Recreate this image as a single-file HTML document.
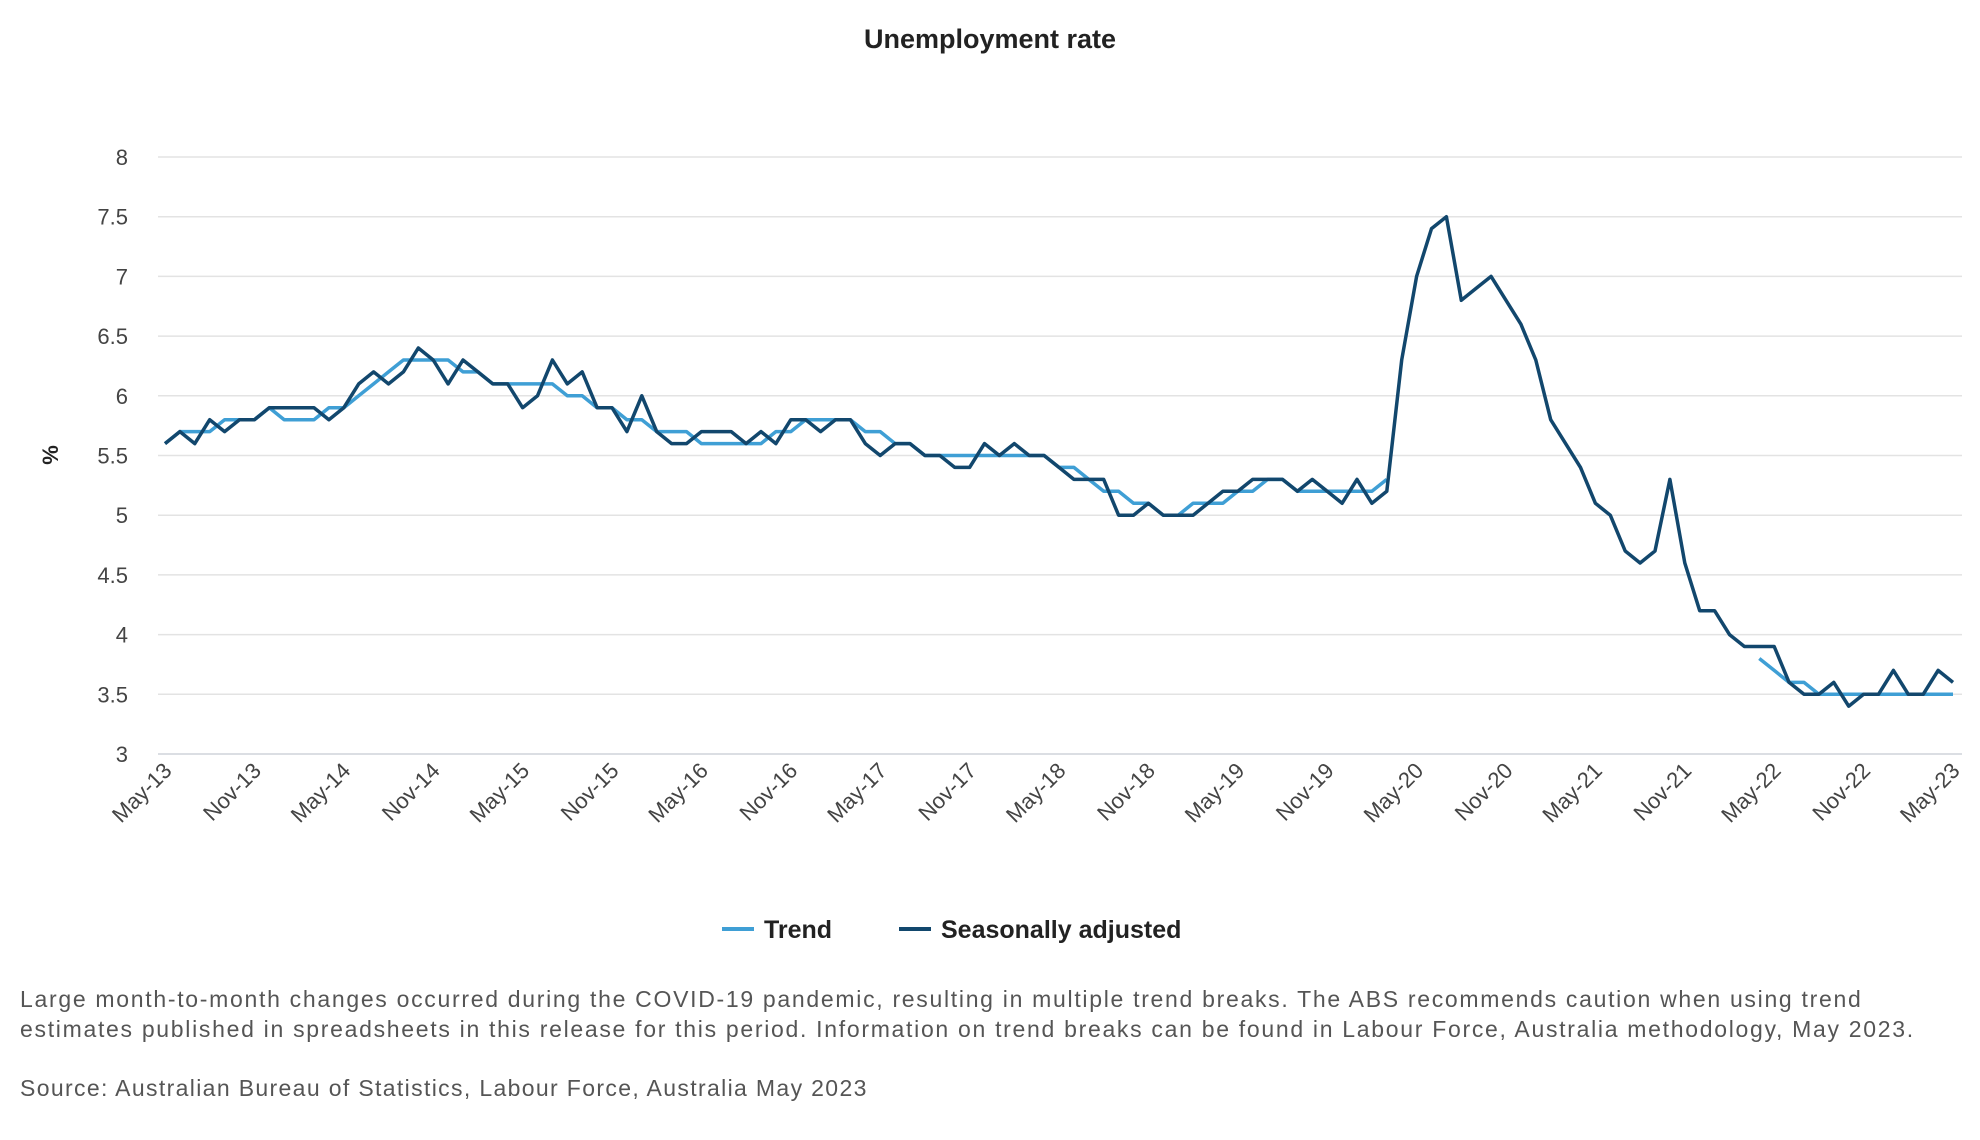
<!DOCTYPE html>
<html><head><meta charset="utf-8">
<style>
body{margin:0;background:#fff;width:1980px;height:1140px;overflow:hidden;font-family:"Liberation Sans",sans-serif;}
#chart{position:absolute;left:0;top:0;}
.note{position:absolute;left:20px;color:#555;font-size:23px;line-height:30px;letter-spacing:1.7px;white-space:nowrap;}
</style></head>
<body>
<svg id="chart" width="1980" height="1140" xmlns="http://www.w3.org/2000/svg">
<text x="990" y="48" text-anchor="middle" font-family="Liberation Sans, sans-serif" font-size="27" font-weight="bold" fill="#222">Unemployment rate</text>
<text transform="translate(58,455) rotate(-90)" text-anchor="middle" font-family="Liberation Sans, sans-serif" font-size="22" font-weight="bold" fill="#222">%</text>
<g id="grid"></g><g id="yt"></g><g id="xt"></g><g id="lines"></g>
<g>
<line x1="722" y1="929" x2="754" y2="929" stroke="#3f9fd5" stroke-width="4"/>
<text x="764" y="938" font-family="Liberation Sans, sans-serif" font-size="25" font-weight="bold" fill="#222">Trend</text>
<line x1="899" y1="929" x2="931" y2="929" stroke="#12476d" stroke-width="4"/>
<text x="941" y="938" font-family="Liberation Sans, sans-serif" font-size="25" font-weight="bold" fill="#222">Seasonally adjusted</text>
</g>
</svg>
<div class="note" style="top:984px;">Large month-to-month changes occurred during the COVID-19 pandemic, resulting in multiple trend breaks. The ABS recommends caution when using trend<br>estimates published in spreadsheets in this release for this period. Information on trend breaks can be found in Labour Force, Australia methodology, May 2023.</div>
<div class="note" style="top:1073px;letter-spacing:1.35px;">Source: Australian Bureau of Statistics, Labour Force, Australia May 2023</div>
<script>
const yTicks=[3,3.5,4,4.5,5,5.5,6,6.5,7,7.5,8];
const xTickLabels=["May-13","Nov-13","May-14","Nov-14","May-15","Nov-15","May-16","Nov-16","May-17","Nov-17","May-18","Nov-18","May-19","Nov-19","May-20","Nov-20","May-21","Nov-21","May-22","Nov-22","May-23"];
const seasonal=[5.6,5.7,5.6,5.8,5.7,5.8, 5.8,5.9,5.9,5.9,5.9,5.8, 5.9,6.1,6.2,6.1,6.2,6.4, 6.3,6.1,6.3,6.2,6.1,6.1, 5.9,6.0,6.3,6.1,6.2,5.9, 5.9,5.7,6.0,5.7,5.6,5.6, 5.7,5.7,5.7,5.6,5.7,5.6, 5.8,5.8,5.7,5.8,5.8,5.6, 5.5,5.6,5.6,5.5,5.5,5.4, 5.4,5.6,5.5,5.6,5.5,5.5, 5.4,5.3,5.3,5.3,5.0,5.0, 5.1,5.0,5.0,5.0,5.1,5.2, 5.2,5.3,5.3,5.3,5.2,5.3, 5.2,5.1,5.3,5.1,5.2,6.3, 7.0,7.4,7.5,6.8,6.9,7.0, 6.8,6.6,6.3,5.8,5.6,5.4, 5.1,5.0,4.7,4.6,4.7,5.3, 4.6,4.2,4.2,4.0,3.9,3.9, 3.9,3.6,3.5,3.5,3.6,3.4, 3.5,3.5,3.7,3.5,3.5,3.7, 3.6];
const trend=[5.6,5.7,5.7,5.7,5.8,5.8, 5.8,5.9,5.8,5.8,5.8,5.9, 5.9,6.0,6.1,6.2,6.3,6.3, 6.3,6.3,6.2,6.2,6.1,6.1, 6.1,6.1,6.1,6.0,6.0,5.9, 5.9,5.8,5.8,5.7,5.7,5.7, 5.6,5.6,5.6,5.6,5.6,5.7, 5.7,5.8,5.8,5.8,5.8,5.7, 5.7,5.6,5.6,5.5,5.5,5.5, 5.5,5.5,5.5,5.5,5.5,5.5, 5.4,5.4,5.3,5.2,5.2,5.1, 5.1,5.0,5.0,5.1,5.1,5.1, 5.2,5.2,5.3,5.3,5.2,5.2, 5.2,5.2,5.2,5.2,5.3,null, null,null,null,null,null,null, null,null,null,null,null,null, null,null,null,null,null,null, null,null,null,null,null,3.8, 3.7,3.6,3.6,3.5,3.5,3.5, 3.5,3.5,3.5,3.5,3.5,3.5, 3.5];
const NS="http://www.w3.org/2000/svg";
const X0=165,X1=1953,Y0=754,Y1=157,GL=158,GR=1962;
const xs=i=>X0+(X1-X0)*i/(seasonal.length-1);
const ys=v=>Y0-(v-3)/(8-3)*(Y0-Y1);
function mk(t,a,p){const e=document.createElementNS(NS,t);for(const k in a)e.setAttribute(k,a[k]);p.appendChild(e);return e;}
const grid=document.getElementById('grid'),yt=document.getElementById('yt'),xt=document.getElementById('xt'),lines=document.getElementById('lines');
yTicks.forEach(v=>{
 const l=mk('line',{x1:GL,x2:GR,y1:ys(v),y2:ys(v),stroke:v===3?'#cfd4da':'#e3e3e3','stroke-width':1.5},grid);
 
 
 const t=mk('text',{x:128,y:ys(v)+8,'text-anchor':'end','font-family':'Liberation Sans, sans-serif','font-size':22,fill:'#444'},yt);
 t.textContent=String(v);
 
 
});
xTickLabels.forEach((s,k)=>{
 const x=xs(k*6);
 const t=mk('text',{transform:`translate(${x+8},${772}) rotate(-45)`,'text-anchor':'end','font-family':'Liberation Sans, sans-serif','font-size':22,fill:'#444'},xt);
 t.textContent=s;
 
 
});
function path(arr){let d='',pen=false;arr.forEach((v,i)=>{if(v==null){pen=false;return;}d+=(pen?'L':'M')+xs(i).toFixed(1)+' '+ys(v).toFixed(1)+' ';pen=true;});return d;}
const pt=mk('path',{d:path(trend),fill:'none',stroke:'#3f9fd5','stroke-width':3.5,'stroke-linejoin':'round'},lines);


const ps=mk('path',{d:path(seasonal),fill:'none',stroke:'#12476d','stroke-width':3.5,'stroke-linejoin':'round'},lines);


</script>
</body></html>
